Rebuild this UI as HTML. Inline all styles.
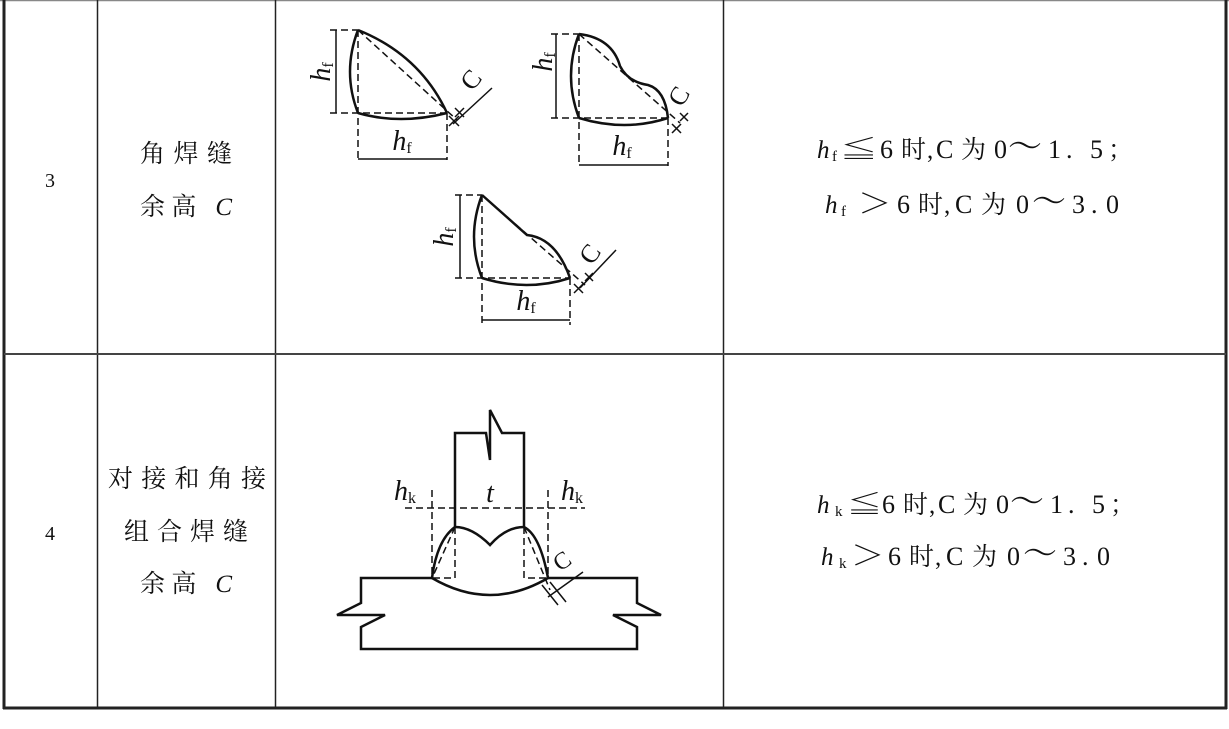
<!DOCTYPE html>
<html><head><meta charset="utf-8"><style>
html,body{margin:0;padding:0;background:#fff;}
svg{display:block;}
.cj{font-family:"Liberation Serif","Noto Serif CJK SC",serif;fill:#111;}
.it{font-family:"Liberation Serif",serif;font-style:italic;fill:#111;}
.sb{font-family:"Liberation Serif",serif;fill:#111;}
.ck{font-family:"Noto Serif CJK SC",serif;fill:#111;}
</style></head><body>
<svg width="1229" height="729" viewBox="0 0 1229 729" xmlns="http://www.w3.org/2000/svg">
<g stroke="#222" fill="none">
<line x1="0" y1="0.5" x2="1229" y2="0.5" stroke="#888" stroke-width="1.5"/>
<line x1="4" y1="0" x2="4" y2="709" stroke-width="3"/>
<line x1="1226" y1="0" x2="1226" y2="709" stroke-width="3"/>
<line x1="3" y1="708" x2="1227" y2="708" stroke-width="3"/>
<line x1="97.5" y1="0" x2="97.5" y2="708" stroke-width="1.5"/>
<line x1="275.5" y1="0" x2="275.5" y2="708" stroke-width="1.5"/>
<line x1="723.5" y1="0" x2="723.5" y2="708" stroke-width="1.5"/>
<line x1="4" y1="354" x2="1226" y2="354" stroke-width="2" stroke="#444"/>
</g>
<text class="sb" x="50" y="187" font-size="20" text-anchor="middle">3</text>
<text class="sb" x="50" y="540" font-size="20" text-anchor="middle">4</text>
<text class="cj" x="140" y="162" font-size="25" textLength="92" lengthAdjust="spacing">角焊缝</text>
<text class="cj" x="140" y="215" font-size="25" textLength="92" lengthAdjust="spacing">余高 <tspan font-style="italic">C</tspan></text>
<text class="cj" x="108" y="487" font-size="25" textLength="158" lengthAdjust="spacing">对接和角接</text>
<text class="cj" x="124" y="540" font-size="25" textLength="124" lengthAdjust="spacing">组合焊缝</text>
<text class="cj" x="140" y="592" font-size="25" textLength="92" lengthAdjust="spacing">余高 <tspan font-style="italic">C</tspan></text>

<g font-size="25">
<text class="it" x="817" y="158">h</text><text class="sb" x="832" y="161" font-size="15">f</text>
<text class="ck" x="0" y="0" font-size="25" transform="translate(840,158) scale(1.5,1)">≦</text>
<text class="sb" x="880" y="158" font-size="26">6</text>
<text class="ck" x="901" y="158">时</text><text class="sb" x="927" y="158">,</text>
<text class="sb" x="936" y="158" font-size="26">C</text>
<text class="ck" x="961" y="158">为</text>
<text class="sb" x="994" y="158" font-size="26">0</text>
<text class="ck" x="1008" y="158" font-size="34">～</text>
<text class="sb" x="1048" y="158" font-size="26">1</text><text class="sb" x="1066" y="158" font-size="26">.</text>
<text class="sb" x="1090" y="158" font-size="26">5</text>
<text class="ck" x="1108" y="158">；</text>

<text class="it" x="825" y="213">h</text><text class="sb" x="841" y="216" font-size="15">f</text>
<text class="ck" x="0" y="0" font-size="28" transform="translate(858,213) scale(1.2,1)">＞</text>
<text class="sb" x="897" y="213" font-size="26">6</text>
<text class="ck" x="918" y="213">时</text><text class="sb" x="944" y="213">,</text>
<text class="sb" x="955" y="213" font-size="26">C</text>
<text class="ck" x="981" y="213">为</text>
<text class="sb" x="1016" y="213" font-size="26">0</text>
<text class="ck" x="1032" y="213" font-size="34">～</text>
<text class="sb" x="1072" y="213" font-size="26">3</text><text class="sb" x="1091" y="213" font-size="26">.</text>
<text class="sb" x="1106" y="213" font-size="26">0</text>
</g>

<g font-size="25">
<text class="it" x="817" y="513">h</text><text class="sb" x="835" y="516" font-size="15">k</text>
<text class="ck" x="0" y="0" font-size="25" transform="translate(847,513) scale(1.4,1)">≦</text>
<text class="sb" x="882" y="513" font-size="26">6</text>
<text class="ck" x="903" y="513">时</text><text class="sb" x="929" y="513">,</text>
<text class="sb" x="938" y="513" font-size="26">C</text>
<text class="ck" x="963" y="513">为</text>
<text class="sb" x="996" y="513" font-size="26">0</text>
<text class="ck" x="1010" y="513" font-size="34">～</text>
<text class="sb" x="1050" y="513" font-size="26">1</text><text class="sb" x="1068" y="513" font-size="26">.</text>
<text class="sb" x="1092" y="513" font-size="26">5</text>
<text class="ck" x="1110" y="513">；</text>

<text class="it" x="821" y="565">h</text><text class="sb" x="839" y="568" font-size="15">k</text>
<text class="ck" x="0" y="0" font-size="28" transform="translate(851,565) scale(1.2,1)">＞</text>
<text class="sb" x="888" y="565" font-size="26">6</text>
<text class="ck" x="909" y="565">时</text><text class="sb" x="935" y="565">,</text>
<text class="sb" x="946" y="565" font-size="26">C</text>
<text class="ck" x="972" y="565">为</text>
<text class="sb" x="1007" y="565" font-size="26">0</text>
<text class="ck" x="1023" y="565" font-size="34">～</text>
<text class="sb" x="1063" y="565" font-size="26">3</text><text class="sb" x="1082" y="565" font-size="26">.</text>
<text class="sb" x="1097" y="565" font-size="26">0</text>
</g>

<g stroke="#111" fill="none" stroke-width="1.5">
<g stroke-dasharray="7,4">
<line x1="358" y1="30" x2="358" y2="160"/>
<line x1="447" y1="113" x2="447" y2="160"/>
<line x1="330" y1="113" x2="447" y2="113"/>
<line x1="330" y1="30" x2="358" y2="30"/>
<line x1="358" y1="30" x2="457" y2="120"/>
</g>
<line x1="336" y1="30" x2="336" y2="113"/>
<line x1="358" y1="159" x2="447" y2="159"/>
<line x1="453" y1="124" x2="492" y2="88"/>
<path d="M449,116 l10,10 M459,116 l-10,10 M455,108 l9,9 M464,108 l-9,9"/>
<g stroke-width="2.5">
<path d="M358,30 Q342,72 358,113"/>
<path d="M358,30 Q420,55 447,113"/>
<path d="M358,113 Q400,125 447,113"/>
</g>
</g>
<text class="it" transform="translate(330,72) rotate(-90)" font-size="28" text-anchor="middle">h<tspan font-style="normal" font-size="16" dy="3">f</tspan></text>
<text class="it" x="402" y="150" font-size="28" text-anchor="middle">h<tspan font-style="normal" font-size="16" dy="3">f</tspan></text>
<text class="sb" transform="translate(472,92) rotate(-50)" font-size="26">C</text>

<g stroke="#111" fill="none" stroke-width="1.5">
<g stroke-dasharray="7,4">
<line x1="579" y1="34" x2="579" y2="166"/>
<line x1="668" y1="118" x2="668" y2="166"/>
<line x1="551" y1="118" x2="668" y2="118"/>
<line x1="551" y1="34" x2="579" y2="34"/>
<line x1="579" y1="34" x2="680" y2="123"/>
</g>
<line x1="556" y1="34" x2="556" y2="118"/>
<line x1="579" y1="165" x2="668" y2="165"/>
<path d="M672,124 l9,9 M681,124 l-9,9 M680,113 l8,8 M688,113 l-8,8"/>
<g stroke-width="2.5">
<path d="M579,34 Q563,76 579,118"/>
<path d="M579,34 Q612,38 620,66 Q628,82 648,85 Q665,90 668,118"/>
<path d="M579,118 Q625,132 668,118"/>
</g>
</g>
<text class="it" transform="translate(552,62) rotate(-90)" font-size="28" text-anchor="middle">h<tspan font-style="normal" font-size="16" dy="3">f</tspan></text>
<text class="it" x="622" y="155" font-size="28" text-anchor="middle">h<tspan font-style="normal" font-size="16" dy="3">f</tspan></text>
<text class="sb" transform="translate(682,108) rotate(-60)" font-size="26">C</text>

<g stroke="#111" fill="none" stroke-width="1.5">
<g stroke-dasharray="7,4">
<line x1="482" y1="195" x2="482" y2="325"/>
<line x1="570" y1="278" x2="570" y2="325"/>
<line x1="455" y1="278" x2="570" y2="278"/>
<line x1="455" y1="195" x2="482" y2="195"/>
<line x1="482" y1="195" x2="585" y2="285"/>
</g>
<line x1="460" y1="195" x2="460" y2="278"/>
<line x1="482" y1="320" x2="570" y2="320"/>
<line x1="580" y1="288" x2="616" y2="250"/>
<path d="M574,284 l9,9 M583,284 l-9,9 M585,273 l8,8 M593,273 l-8,8"/>
<g stroke-width="2.5">
<path d="M482,195 Q466,237 482,278"/>
<path d="M482,195 L527,235 Q556,238 570,278"/>
<path d="M482,278 Q527,292 570,278"/>
</g>
</g>
<text class="it" transform="translate(453,237) rotate(-90)" font-size="28" text-anchor="middle">h<tspan font-style="normal" font-size="16" dy="3">f</tspan></text>
<text class="it" x="526" y="310" font-size="28" text-anchor="middle">h<tspan font-style="normal" font-size="16" dy="3">f</tspan></text>
<text class="sb" transform="translate(592,266) rotate(-55)" font-size="26">C</text>

<g stroke="#111" fill="none" stroke-width="2.5">
<path d="M455,527 L455,433 L486,433 L490,460 L490,410 L502,433 L524,433 L524,527"/>
<path d="M432,578 L361,578 L361,603 L337,615 L385,615 L361,627 L361,649 L637,649 L637,627 L613,615 L661,615 L637,603 L637,578 L548,578"/>
<path d="M455,527 Q472,527 490,545 Q506,527 524,527"/>
<path d="M432,578 Q490,612 548,578"/>
<path d="M455,527 Q437,540 432,578"/>
<path d="M524,527 Q540,535 548,578"/>
</g>
<g stroke="#111" fill="none" stroke-width="1.5">
<g stroke-dasharray="7,4">
<line x1="405" y1="508" x2="585" y2="508"/>
<line x1="432" y1="490" x2="432" y2="578"/>
<line x1="548" y1="490" x2="548" y2="578"/>
<path d="M455,527 L455,578 L432,578"/>
<path d="M524,527 L524,578 L548,578"/>
<path d="M455,527 L433,576"/>
<path d="M524,527 L550,590"/>
</g>
<path d="M542,585 L558,605 M550,582 L566,602"/>
<line x1="548" y1="597" x2="583" y2="572"/>
</g>
<text class="it" x="405" y="500" font-size="28" text-anchor="middle">h<tspan font-style="normal" font-size="16" dy="3">k</tspan></text>
<text class="it" x="490" y="502" font-size="28" text-anchor="middle">t</text>
<text class="it" x="572" y="500" font-size="28" text-anchor="middle">h<tspan font-style="normal" font-size="16" dy="3">k</tspan></text>
<text class="sb" transform="translate(560,572) rotate(-35)" font-size="24">C</text>
</svg>
</body></html>
